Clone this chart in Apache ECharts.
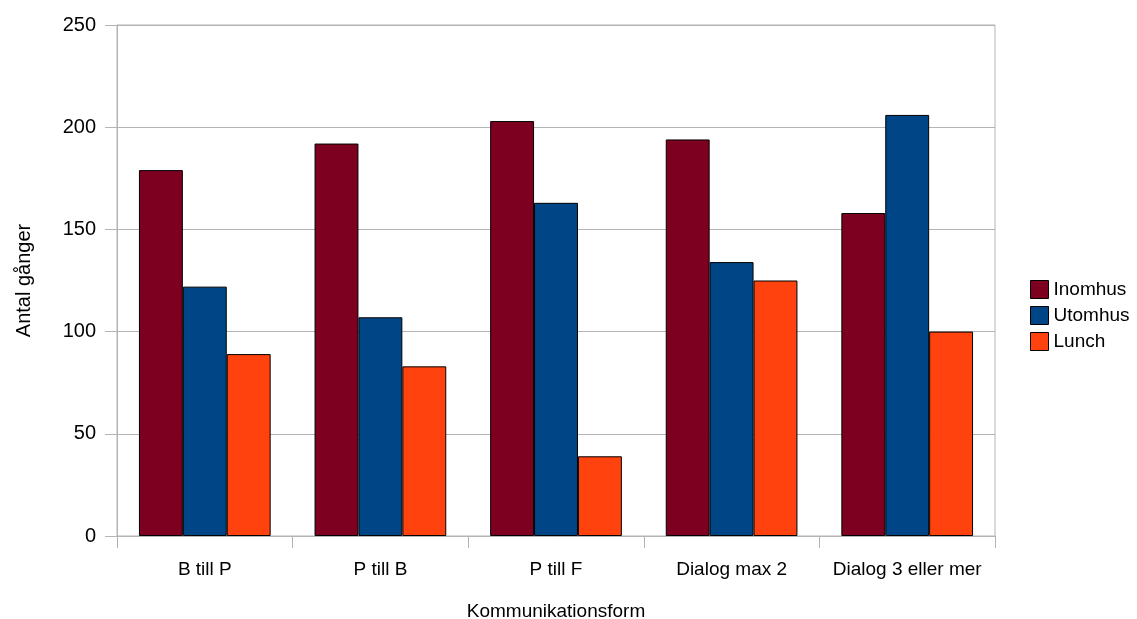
<!DOCTYPE html>
<html>
<head>
<meta charset="utf-8">
<script src="https://cdn.jsdelivr.net/npm/echarts@6/dist/echarts.min.js"></script>
<style>
html,body{margin:0;padding:0;background:#fff;}
#chart{width:1137px;height:619px;}
</style>
</head>
<body>
<div id="chart"></div>
<script>
const categories = ["B till P", "P till B", "P till F", "Dialog max 2", "Dialog 3 eller mer"];
const inomhus = [179, 192, 203, 194, 158];
const utomhus = [122, 107, 163, 134, 206];
const lunch = [89, 83, 39, 125, 100];
const yTicks = [0, 50, 100, 150, 200, 250];

const font = "'Liberation Sans', Arial, sans-serif";
const chart = echarts.init(document.getElementById('chart'));
function bar(name, data, color) {
  return {
    name: name, type: 'bar', data: data,
    barGap: '0%', barCategoryGap: '25%',
    itemStyle: { color: color, borderColor: '#000', borderWidth: 1 }
  };
}
chart.setOption({
  animation: false,
  grid: { left: 117, right: 142, top: 25, bottom: 83, show: true, borderColor: '#b3b3b3', borderWidth: 1,
          containLabel: false, outerBoundsMode: 'none' },
  legend: {
    orient: 'vertical', left: 1030, top: 280, padding: 0,
    itemWidth: 18, itemHeight: 18, itemGap: 7,
    icon: 'rect',
    itemStyle: { borderColor: '#000', borderWidth: 1 },
    textStyle: { fontFamily: font, fontSize: 19, color: '#000' },
    data: ['Inomhus', 'Utomhus', 'Lunch']
  },
  xAxis: {
    type: 'category', data: categories,
    name: 'Kommunikationsform', nameLocation: 'middle', nameGap: 66,
    nameTextStyle: { fontFamily: font, fontSize: 19, color: '#000' },
    axisLine: { lineStyle: { color: '#b3b3b3', width: 1 } },
    axisTick: { show: true, length: 12, lineStyle: { color: '#b3b3b3' } },
    axisLabel: { fontFamily: font, fontSize: 19, color: '#000', margin: 24, interval: 0, hideOverlap: false }
  },
  yAxis: {
    type: 'value', min: yTicks[0], max: yTicks[yTicks.length - 1], interval: 50,
    name: 'Antal gånger', nameLocation: 'middle', nameGap: 83, nameRotate: 90,
    nameTextStyle: { fontFamily: font, fontSize: 20, color: '#000' },
    axisLine: { show: true, lineStyle: { color: '#b3b3b3', width: 1 } },
    axisTick: { show: true, length: 12, lineStyle: { color: '#b3b3b3' } },
    axisLabel: { fontFamily: font, fontSize: 20, color: '#000', margin: 21 },
    splitLine: { lineStyle: { color: '#b3b3b3', width: 1 } }
  },
  series: [
    bar('Inomhus', inomhus, '#7e0021'),
    bar('Utomhus', utomhus, '#004586'),
    bar('Lunch', lunch, '#ff420e')
  ]
});
</script>
</body>
</html>
